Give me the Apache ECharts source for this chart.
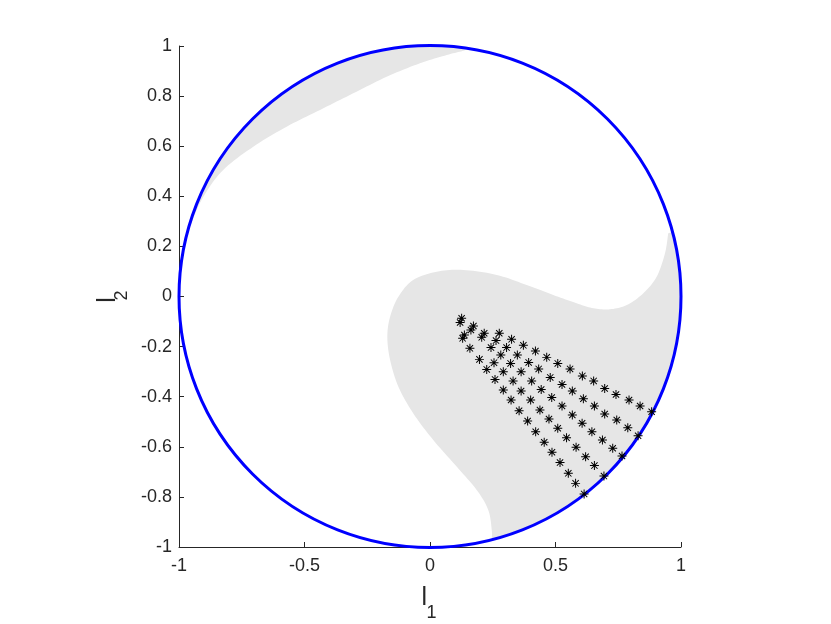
<!DOCTYPE html>
<html>
<head>
<meta charset="utf-8">
<script src="https://cdn.jsdelivr.net/npm/echarts@6/dist/echarts.min.js"></script>
<style>
html,body{margin:0;padding:0;background:#fff;}
#main{width:831px;height:624px;}
</style>
</head>
<body>
<div id="main"></div>
<script>
// ---- data ----
var xTicks = [-1, -0.5, 0, 0.5, 1];
var yTicks = [-1, -0.8, -0.6, -0.4, -0.2, 0, 0.2, 0.4, 0.6, 0.8, 1];
var xLabel = ['l', '1'];
var yLabel = ['l', '2'];

var circleCenter = [0, 0];
var circleRadius = 1;

// inner boundary of the lower-right grey region (from top tip down to bottom contact)
var regionA = [[0.949,0.252],[0.936,0.172],[0.903,0.079],[0.850,0.013],[0.784,-0.034],[0.717,-0.051],
  [0.651,-0.047],[0.584,-0.027],[0.491,0.006],[0.385,0.046],[0.266,0.086],[0.133,0.106],[0.027,0.099],
  [-0.067,0.066],[-0.126,-0.001],[-0.159,-0.081],[-0.170,-0.160],[-0.159,-0.253],[-0.126,-0.360],
  [-0.067,-0.466],[0.013,-0.573],[0.106,-0.679],[0.186,-0.772],[0.232,-0.852],[0.246,-0.932],[0.246,-0.965]];

// inner boundary of the upper-left grey region (from left contact up to top contact)
var regionB = [[-0.985,0.170],[-0.956,0.279],[-0.903,0.398],[-0.824,0.505],[-0.704,0.598],[-0.571,0.678],
  [-0.438,0.745],[-0.306,0.811],[-0.173,0.877],[-0.040,0.931],[0.067,0.964],[0.133,0.981],[0.145,0.989]];

var stars = [[0.126,-0.087],[0.120,-0.104],[0.173,-0.118],[0.163,-0.134],[0.216,-0.147],[0.276,-0.147],
  [0.137,-0.154],[0.130,-0.167],[0.206,-0.163],[0.263,-0.176],[0.325,-0.171],[0.372,-0.195],[0.243,-0.204],
  [0.305,-0.204],[0.159,-0.207],[0.420,-0.218],[0.348,-0.234],[0.282,-0.234],[0.465,-0.243],[0.197,-0.251],
  [0.255,-0.264],[0.393,-0.263],[0.321,-0.267],[0.509,-0.267],[0.226,-0.291],[0.292,-0.300],[0.363,-0.300],
  [0.433,-0.289],[0.558,-0.289],[0.607,-0.317],[0.479,-0.323],[0.259,-0.331],[0.331,-0.337],[0.405,-0.337],
  [0.652,-0.337],[0.526,-0.351],[0.443,-0.371],[0.292,-0.373],[0.363,-0.377],[0.567,-0.377],[0.696,-0.367],
  [0.741,-0.391],[0.485,-0.403],[0.323,-0.413],[0.401,-0.413],[0.611,-0.408],[0.793,-0.413],[0.837,-0.437],
  [0.655,-0.437],[0.526,-0.437],[0.355,-0.456],[0.438,-0.453],[0.883,-0.460],[0.696,-0.469],[0.567,-0.473],
  [0.474,-0.489],[0.389,-0.497],[0.744,-0.493],[0.606,-0.506],[0.788,-0.524],[0.421,-0.540],[0.509,-0.526],
  [0.645,-0.540],[0.829,-0.556],[0.544,-0.564],[0.687,-0.573],[0.455,-0.582],[0.582,-0.602],[0.728,-0.606],
  [0.486,-0.622],[0.620,-0.640],[0.765,-0.637],[0.518,-0.663],[0.655,-0.675],[0.551,-0.706],[0.693,-0.717],
  [0.580,-0.746],[0.614,-0.788]];

// ---- styles ----
var FONT = '"Liberation Sans", Arial, Helvetica, sans-serif';
var TXT = '#262626';
var GREY = '#e6e6e6';
var ASTERISK = 'path://M0,4.45 L10,4.45 L10,5.55 L0,5.55 Z M4.45,0 L5.55,0 L5.55,10 L4.45,10 Z ' +
  'M1.89,1.11 L8.89,8.11 L8.11,8.89 L1.11,1.89 Z M8.11,1.11 L8.89,1.89 L1.89,8.89 L1.11,8.11 Z';

// Catmull-Rom smoothing of a pixel polyline (rendering only)
function smoothPixels(p) {
  var out = [];
  var steps = 10;
  for (var i = 0; i < p.length - 1; i++) {
    var p0 = p[Math.max(i - 1, 0)], p1 = p[i], p2 = p[i + 1], p3 = p[Math.min(i + 2, p.length - 1)];
    for (var s = 0; s < steps; s++) {
      var t = s / steps, t2 = t * t, t3 = t2 * t;
      out.push([
        0.5 * (2 * p1[0] + (-p0[0] + p2[0]) * t + (2 * p0[0] - 5 * p1[0] + 4 * p2[0] - p3[0]) * t2 + (-p0[0] + 3 * p1[0] - 3 * p2[0] + p3[0]) * t3),
        0.5 * (2 * p1[1] + (-p0[1] + p2[1]) * t + (2 * p0[1] - 5 * p1[1] + 4 * p2[1] - p3[1]) * t2 + (-p0[1] + 3 * p1[1] - 3 * p2[1] + p3[1]) * t3)
      ]);
    }
  }
  out.push(p[p.length - 1]);
  return out;
}

function regionRenderer(edge) {
  return function (params, api) {
    var c = api.coord(circleCenter);
    var r = api.size([circleRadius, 0])[0];
    var pts = smoothPixels(edge.map(function (p) { return api.coord(p); }));
    var first = edge[0], last = edge[edge.length - 1];
    var a0 = Math.atan2(last[1] - circleCenter[1], last[0] - circleCenter[0]);
    var a1 = Math.atan2(first[1] - circleCenter[1], first[0] - circleCenter[0]);
    while (a1 < a0) a1 += 2 * Math.PI;
    var n = 160;
    for (var i = 0; i <= n; i++) {
      var t = a0 + (a1 - a0) * i / n;
      pts.push([c[0] + r * Math.cos(t), c[1] - r * Math.sin(t)]);
    }
    return { type: 'polygon', shape: { points: pts }, style: { fill: GREY, stroke: null }, silent: true };
  };
}

var chart = echarts.init(document.getElementById('main'), null, { renderer: 'canvas' });
function fmt(v) { return String(+v.toFixed(2)); }

chart.setOption({
  animation: false,
  backgroundColor: '#ffffff',
  grid: { left: 179, top: 46, width: 502, height: 501, containLabel: false },
  xAxis: {
    type: 'value', min: xTicks[0], max: xTicks[xTicks.length - 1], interval: xTicks[1] - xTicks[0],
    position: 'bottom',
    axisLine: { show: true, onZero: false, lineStyle: { color: TXT, width: 1 } },
    axisTick: { show: true, inside: true, length: 5, lineStyle: { color: TXT } },
    axisLabel: { color: TXT, fontSize: 18, fontFamily: FONT, margin: 10, formatter: fmt },
    splitLine: { show: false }
  },
  yAxis: {
    type: 'value', min: yTicks[0], max: yTicks[yTicks.length - 1], interval: +(yTicks[1] - yTicks[0]).toFixed(2),
    position: 'left',
    axisLine: { show: true, onZero: false, lineStyle: { color: TXT, width: 1 } },
    axisTick: { show: true, inside: true, length: 5, lineStyle: { color: TXT } },
    axisLabel: { color: TXT, fontSize: 18, fontFamily: FONT, margin: 7, formatter: fmt },
    splitLine: { show: false }
  },
  series: [
    { type: 'custom', data: [[0, 0]], renderItem: regionRenderer(regionA), z: 1, silent: true, clip: false },
    { type: 'custom', data: [[0, 0]], renderItem: regionRenderer(regionB), z: 1, silent: true, clip: false },
    {
      type: 'custom', data: [[circleCenter[0], circleCenter[1], circleRadius]], z: 3, silent: true, clip: false,
      renderItem: function (params, api) {
        var c = api.coord([api.value(0), api.value(1)]);
        var r = api.size([api.value(2), 0])[0];
        return { type: 'circle', shape: { cx: c[0], cy: c[1], r: r },
          style: { fill: null, stroke: '#0000ff', lineWidth: 3 } };
      }
    },
    {
      type: 'scatter', data: stars, z: 4, silent: true,
      symbol: ASTERISK, symbolSize: 9, symbolKeepAspect: false,
      itemStyle: { color: '#000000', opacity: 1 }
    }
  ],
  graphic: [
    { type: 'text', x: 421.6, y: 598, silent: true,
      style: { text: xLabel[0], font: '25px ' + FONT, fill: TXT, textAlign: 'left', textVerticalAlign: 'middle' } },
    { type: 'text', x: 426.5, y: 613, silent: true,
      style: { text: xLabel[1], font: '18px ' + FONT, fill: TXT, textAlign: 'left', textVerticalAlign: 'middle' } },
    { type: 'text', x: 108, y: 302.7, rotation: Math.PI / 2, silent: true,
      style: { text: yLabel[0], font: '25px ' + FONT, fill: TXT, textAlign: 'left', textVerticalAlign: 'middle' } },
    { type: 'text', x: 122, y: 300.5, rotation: Math.PI / 2, silent: true,
      style: { text: yLabel[1], font: '18px ' + FONT, fill: TXT, textAlign: 'left', textVerticalAlign: 'middle' } }
  ]
});
</script>
</body>
</html>
